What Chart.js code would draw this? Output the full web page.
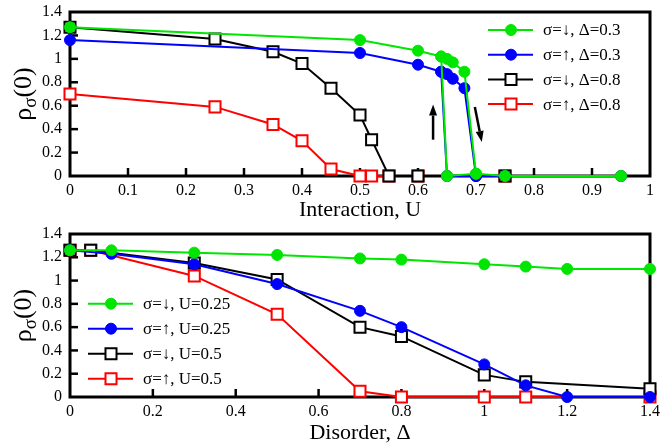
<!DOCTYPE html>
<html>
<head>
<meta charset="utf-8">
<script src="https://cdn.jsdelivr.net/npm/chart.js@4"></script>
<style>
  body { margin: 0; background: #fff; }
  canvas { display: block; }
</style>
</head>
<body>
<canvas id="interactionChart" width="660" height="222"></canvas>
<canvas id="disorderChart" width="660" height="222"></canvas>
<script>
// ---- top panel: rho(0) vs interaction U ----
const uLabels = ["σ=↓, Δ=0.3", "σ=↑, Δ=0.3", "σ=↓, Δ=0.8", "σ=↑, Δ=0.8"];
const uTicks = [0, 0.1, 0.2, 0.3, 0.4, 0.5, 0.6, 0.7, 0.8, 0.9, 1];

const uGreenX = [0, 0.5, 0.6, 0.64, 0.65, 0.66, 0.68, 0.70, 0.75, 0.95];
const uGreenY = [1.27, 1.16, 1.07, 1.02, 1.00, 0.97, 0.89, 0.02, 0, 0];
const uGreenDropX = [0.64, 0.65, 0.70];
const uGreenDropY = [1.02, 0, 0.02];

const uBlueX = [0, 0.5, 0.6, 0.64, 0.65, 0.66, 0.68, 0.70, 0.75, 0.95];
const uBlueY = [1.16, 1.05, 0.95, 0.89, 0.87, 0.83, 0.75, 0, 0, 0];
const uBlueDropX = [0.64, 0.65, 0.70];
const uBlueDropY = [0.89, 0, 0];

const uBlackX = [0, 0.25, 0.35, 0.40, 0.45, 0.50, 0.52, 0.55, 0.60, 0.75];
const uBlackY = [1.27, 1.17, 1.06, 0.96, 0.75, 0.52, 0.31, 0, 0, 0];

const uRedX = [0, 0.25, 0.35, 0.40, 0.45, 0.50, 0.52, 0.55, 0.60, 0.75];
const uRedY = [0.70, 0.59, 0.44, 0.30, 0.06, 0, 0, 0, 0, 0];

// hysteresis arrows [x0, y0, x1, y1] in data units
const uArrows = [[0.626, 0.31, 0.626, 0.61], [0.698, 0.59, 0.71, 0.29]];

// ---- bottom panel: rho(0) vs disorder ----
const dLabels = ["σ=↓, U=0.25", "σ=↑, U=0.25", "σ=↓, U=0.5", "σ=↑, U=0.5"];
const dTicks = [0, 0.2, 0.4, 0.6, 0.8, 1, 1.2, 1.4];

const dGreenX = [0, 0.1, 0.3, 0.5, 0.7, 0.8, 1.0, 1.1, 1.2, 1.4];
const dGreenY = [1.26, 1.26, 1.24, 1.22, 1.19, 1.18, 1.14, 1.12, 1.10, 1.10];

const dBlueX = [0, 0.1, 0.3, 0.5, 0.7, 0.8, 1.0, 1.1, 1.2, 1.4];
const dBlueY = [1.26, 1.23, 1.14, 0.97, 0.74, 0.60, 0.28, 0.10, 0, 0];

const dBlackX = [0, 0.05, 0.3, 0.5, 0.7, 0.8, 1.0, 1.1, 1.4];
const dBlackY = [1.26, 1.26, 1.15, 1.01, 0.60, 0.52, 0.19, 0.13, 0.07];

const dRedX = [0, 0.05, 0.3, 0.5, 0.7, 0.8, 1.0, 1.1, 1.4];
const dRedY = [1.26, 1.26, 1.04, 0.71, 0.05, 0, 0, 0, 0];

const yTicks = [0, 0.2, 0.4, 0.6, 0.8, 1, 1.2, 1.4];

const GREEN = "#00e600", BLUE = "#0000ff", BLACK = "#000000", RED = "#ff0000";
const SERIF = '"Liberation Serif", "Times New Roman", serif';

function points(xs, ys) {
  return xs.map((x, i) => ({ x: x, y: ys[i] }));
}

// join a branch to the main curve with a gap between them
function withBranch(main, branch) {
  return main.concat([{ x: branch[0].x, y: null }], branch);
}

function circleSet(label, data, color) {
  return {
    label: label, data: data, borderColor: color, backgroundColor: color,
    borderWidth: 2, pointStyle: "circle", pointRadius: 5.5, pointBorderWidth: 1,
    pointBackgroundColor: color, clip: false, spanGaps: false
  };
}

function squareSet(label, data, color) {
  return {
    label: label, data: data, borderColor: color, backgroundColor: "#fff",
    borderWidth: 2, pointStyle: "rect", pointRadius: 7.8, pointBorderWidth: 2,
    pointBackgroundColor: "#fff", clip: false, spanGaps: false
  };
}

function fmt(v) { return String(+v.toFixed(2)); }

// frame, inward ticks, axis titles, legend
function panelPlugin(opts) {
  return {
    id: "panel",
    beforeDatasetsDraw(chart) {
      const ctx = chart.ctx, a = chart.chartArea;
      const xs = chart.scales.x, ys = chart.scales.y;
      ctx.save();
      ctx.strokeStyle = "#000";
      ctx.lineWidth = 2.5;
      opts.xTicks.forEach(t => {
        if (t === opts.xTicks[0] || t === opts.xTicks[opts.xTicks.length - 1]) return;
        const px = xs.getPixelForValue(t);
        ctx.beginPath(); ctx.moveTo(px, a.bottom); ctx.lineTo(px, a.bottom - 8); ctx.stroke();
      });
      yTicks.forEach(t => {
        if (t === 0 || t === 1.4) return;
        const py = ys.getPixelForValue(t);
        ctx.beginPath(); ctx.moveTo(a.left, py); ctx.lineTo(a.left + 8, py); ctx.stroke();
      });
      ctx.lineWidth = 3;
      ctx.strokeRect(a.left, a.top, a.right - a.left, a.bottom - a.top);
      ctx.restore();
    },
    afterDraw(chart) {
      const ctx = chart.ctx, a = chart.chartArea;
      ctx.save();
      ctx.fillStyle = "#000";
      // x title
      ctx.font = "22px " + SERIF;
      ctx.textAlign = "center";
      ctx.textBaseline = "alphabetic";
      ctx.fillText(opts.xTitle, (a.left + a.right) / 2, opts.xTitleY);
      // y title rho_sigma(0)
      ctx.translate(31, (a.top + a.bottom) / 2);
      ctx.rotate(-Math.PI / 2);
      ctx.textAlign = "left";
      const big = "26px " + SERIF, small = "19px " + SERIF;
      ctx.font = big; const w1 = ctx.measureText("ρ").width;
      ctx.font = small; const w2 = ctx.measureText("σ").width;
      ctx.font = big; const w3 = ctx.measureText("(0)").width;
      let x0 = -(w1 + w2 + w3) / 2;
      ctx.font = big; ctx.fillText("ρ", x0, 0);
      ctx.font = small; ctx.fillText("σ", x0 + w1, 5);
      ctx.font = big; ctx.fillText("(0)", x0 + w1 + w2, 0);
      ctx.restore();

      // legend
      ctx.save();
      ctx.font = "17px " + SERIF;
      ctx.textBaseline = "middle";
      ctx.textAlign = "left";
      chart.data.datasets.forEach((ds, i) => {
        const y = opts.legendY + i * opts.legendStep;
        ctx.strokeStyle = ds.borderColor;
        ctx.lineWidth = 2;
        ctx.beginPath(); ctx.moveTo(opts.legendX, y); ctx.lineTo(opts.legendX + 45, y); ctx.stroke();
        ctx.fillStyle = ds.pointBackgroundColor;
        ctx.lineWidth = ds.pointBorderWidth;
        Chart.helpers.drawPoint(ctx, {
          pointStyle: ds.pointStyle, radius: ds.pointRadius, rotation: 0,
          borderWidth: ds.pointBorderWidth
        }, opts.legendX + 23, y);
        ctx.fillStyle = "#000";
        ctx.fillText(ds.label, opts.legendX + 55, y + 1);
      });
      ctx.restore();
    }
  };
}

const arrowPlugin = {
  id: "arrows",
  afterDatasetsDraw(chart) {
    const ctx = chart.ctx, xs = chart.scales.x, ys = chart.scales.y;
    ctx.save();
    ctx.strokeStyle = "#000";
    ctx.fillStyle = "#000";
    ctx.lineWidth = 2.5;
    uArrows.forEach(([x0, y0, x1, y1]) => {
      const ax = xs.getPixelForValue(x0), ay = ys.getPixelForValue(y0);
      const bx = xs.getPixelForValue(x1), by = ys.getPixelForValue(y1);
      const ang = Math.atan2(by - ay, bx - ax);
      const hl = 11, hw = 4;
      const hx = bx - hl * Math.cos(ang), hy = by - hl * Math.sin(ang);
      ctx.beginPath(); ctx.moveTo(ax, ay); ctx.lineTo(hx, hy); ctx.stroke();
      ctx.beginPath();
      ctx.moveTo(bx, by);
      ctx.lineTo(hx + hw * Math.sin(ang), hy - hw * Math.cos(ang));
      ctx.lineTo(hx - hw * Math.sin(ang), hy + hw * Math.cos(ang));
      ctx.closePath(); ctx.fill();
    });
    ctx.restore();
  }
};

function scalesFor(xMax, xStep, xHeight) {
  return {
    x: {
      type: "linear", min: 0, max: xMax,
      grid: { display: false, drawTicks: false }, border: { display: false },
      ticks: {
        stepSize: xStep, padding: 5, color: "#000",
        font: { family: SERIF, size: 16 }, callback: fmt, maxRotation: 0, autoSkip: false
      },
      afterFit(scale) {
        scale.height = xHeight;
        scale.paddingLeft = 0; scale.paddingRight = 0;
      }
    },
    y: {
      type: "linear", min: 0, max: 1.4,
      grid: { display: false, drawTicks: false }, border: { display: false },
      ticks: {
        stepSize: 0.2, padding: 8, color: "#000",
        font: { family: SERIF, size: 16 }, callback: fmt
      },
      afterFit(scale) {
        scale.width = 70;
        scale.paddingTop = 0; scale.paddingBottom = 0;
      }
    }
  };
}

new Chart(document.getElementById("interactionChart"), {
  type: "line",
  data: {
    datasets: [
      circleSet(uLabels[0], withBranch(points(uGreenX, uGreenY), points(uGreenDropX, uGreenDropY)), GREEN),
      circleSet(uLabels[1], withBranch(points(uBlueX, uBlueY), points(uBlueDropX, uBlueDropY)), BLUE),
      squareSet(uLabels[2], points(uBlackX, uBlackY), BLACK),
      squareSet(uLabels[3], points(uRedX, uRedY), RED)
    ]
  },
  options: {
    responsive: false,
    animation: false,
    layout: { padding: { top: 12, right: 10, left: 0, bottom: 0 } },
    plugins: { legend: { display: false }, tooltip: { enabled: false } },
    scales: scalesFor(1, 0.1, 46)
  },
  plugins: [panelPlugin({
    xTicks: uTicks, xTitle: "Interaction, U", xTitleY: 216,
    legendX: 488, legendY: 30, legendStep: 24.7
  }), arrowPlugin]
});

new Chart(document.getElementById("disorderChart"), {
  type: "line",
  data: {
    datasets: [
      circleSet(dLabels[0], points(dGreenX, dGreenY), GREEN),
      circleSet(dLabels[1], points(dBlueX, dBlueY), BLUE),
      squareSet(dLabels[2], points(dBlackX, dBlackY), BLACK),
      squareSet(dLabels[3], points(dRedX, dRedY), RED)
    ]
  },
  options: {
    responsive: false,
    animation: false,
    layout: { padding: { top: 12, right: 10, left: 0, bottom: 0 } },
    plugins: { legend: { display: false }, tooltip: { enabled: false } },
    scales: scalesFor(1.4, 0.2, 47)
  },
  plugins: [panelPlugin({
    xTicks: dTicks, xTitle: "Disorder, Δ", xTitleY: 217,
    legendX: 88, legendY: 81.7, legendStep: 25
  })]
});
</script>
</body>
</html>
